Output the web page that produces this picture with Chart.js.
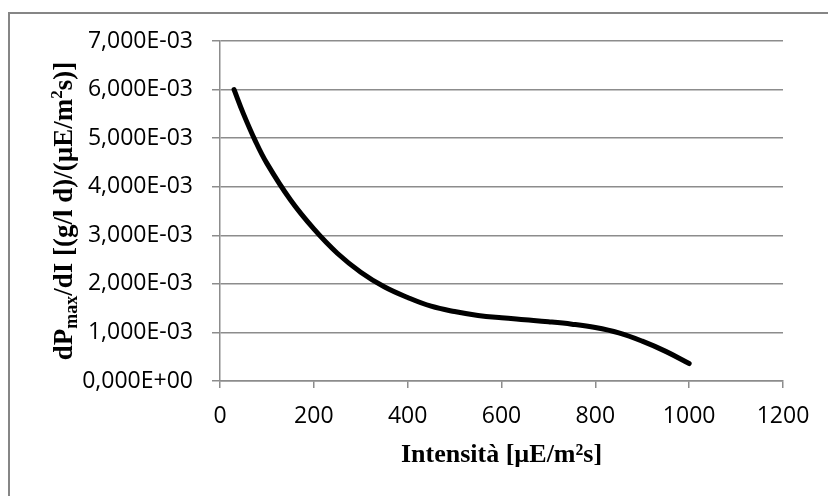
<!DOCTYPE html>
<html>
<head>
<meta charset="utf-8">
<script src="https://cdn.jsdelivr.net/npm/chart.js@4/dist/chart.umd.min.js"></script>
<style>
  body { margin: 0; background: #fff; }
  #wrap { width: 828px; height: 496px; position: relative; }
</style>
</head>
<body>
<div id="wrap"><canvas id="chart" width="828" height="496"></canvas></div>
<script>
// intensity (µE/m²s) and dPmax/dI
const intensity = [30, 50, 75, 100, 150, 200, 250, 300, 350, 400, 450, 500, 550, 600, 650, 700, 750, 800, 850, 900, 950, 1000];
const dPdI = [6.0e-3, 5.5e-3, 4.95e-3, 4.48e-3, 3.73e-3, 3.13e-3, 2.63e-3, 2.24e-3, 1.94e-3, 1.72e-3, 1.54e-3, 1.43e-3, 1.35e-3, 1.30e-3, 1.26e-3, 1.22e-3, 1.17e-3, 1.1e-3, 0.99e-3, 0.82e-3, 0.61e-3, 0.36e-3];
const xTicks = [0, 200, 400, 600, 800, 1000, 1200];
const yMax = 7e-3;
const yStep = 1e-3;

const GRID = '#8c8c8c';
const TICK_FONT = { family: 'Open Sans', size: 23 };

function sciComma(v) {
  if (Math.abs(v) < 1e-12) return '0,000E+00';
  const exp = Math.floor(Math.log10(Math.abs(v)) + 1e-9);
  const mant = v / Math.pow(10, exp);
  const sign = exp < 0 ? '-' : '+';
  return mant.toFixed(3).replace('.', ',') + 'E' + sign + String(Math.abs(exp)).padStart(2, '0');
}

// draw runs of text (with sub/superscripts) centred on 0
function drawRuns(ctx, runs) {
  let total = 0;
  runs.forEach((r) => {
    ctx.font = `bold ${r.size}px "Liberation Serif"`;
    r.w = ctx.measureText(r.t).width;
    total += r.w;
  });
  let x = -total / 2;
  ctx.textBaseline = 'alphabetic';
  ctx.textAlign = 'left';
  runs.forEach((r) => {
    ctx.font = `bold ${r.size}px "Liberation Serif"`;
    ctx.fillText(r.t, x, r.dy || 0);
    x += r.w;
  });
}

const decor = {
  id: 'decor',
  beforeDraw(chart) {
    const ctx = chart.ctx;
    ctx.save();
    ctx.strokeStyle = '#868686';
    ctx.lineWidth = 2;
    ctx.beginPath();
    ctx.moveTo(9, 500);
    ctx.lineTo(9, 13);
    ctx.lineTo(830, 13);
    ctx.stroke();
    ctx.restore();
  },
  afterDraw(chart) {
    const ctx = chart.ctx;
    const a = chart.chartArea;
    ctx.save();
    ctx.fillStyle = '#000';
    // x title
    ctx.translate((a.left + a.right) / 2, 462);
    drawRuns(ctx, [{ t: 'Intensità [µE/m²s]', size: 26 }]);
    ctx.restore();
    // y title
    ctx.save();
    ctx.fillStyle = '#000';
    ctx.translate(72, (a.top + a.bottom) / 2);
    ctx.rotate(-Math.PI / 2);
    drawRuns(ctx, [
      { t: 'dP', size: 27 },
      { t: 'max', size: 18, dy: 5 },
      { t: '/dI [(g/l d)/(µE/m', size: 27 },
      { t: '2', size: 17, dy: -10 },
      { t: 's)]', size: 27 }
    ]);
    ctx.restore();
  }
};

new Chart(document.getElementById('chart'), {
  type: 'line',
  data: {
    datasets: [
      {
        data: intensity.map((x, i) => ({ x, y: dPdI[i] })),
        borderColor: '#000',
        borderWidth: 5,
        borderCapStyle: 'round',
        borderJoinStyle: 'round',
        pointRadius: 0,
        tension: 0.4,
        fill: false
      }
    ]
  },
  options: {
    responsive: false,
    animation: false,
    events: [],
    layout: { padding: { top: 41, right: 45, left: 0, bottom: 0 } },
    plugins: { legend: { display: false }, tooltip: { enabled: false } },
    scales: {
      x: {
        type: 'linear',
        min: 0,
        max: 1200,
        afterBuildTicks: (s) => { s.ticks = xTicks.map((v) => ({ value: v })); },
        afterFit: (s) => { s.height = 115; },
        grid: { drawOnChartArea: false, drawTicks: true, tickLength: 7, color: GRID, lineWidth: 1.5 },
        border: { color: GRID, width: 1.5 },
        ticks: { color: '#000', font: TICK_FONT, padding: 15, maxRotation: 0, callback: (v) => String(v) }
      },
      y: {
        min: 0,
        max: yMax,
        afterFit: (s) => { s.width = 220; },
        grid: { color: GRID, lineWidth: 1.5, drawTicks: true, tickLength: 8 },
        border: { color: GRID, width: 1.5 },
        ticks: { stepSize: yStep, color: '#000', font: TICK_FONT, padding: 19, callback: (v) => sciComma(v) }
      }
    }
  },
  plugins: [decor]
});
</script>
</body>
</html>
